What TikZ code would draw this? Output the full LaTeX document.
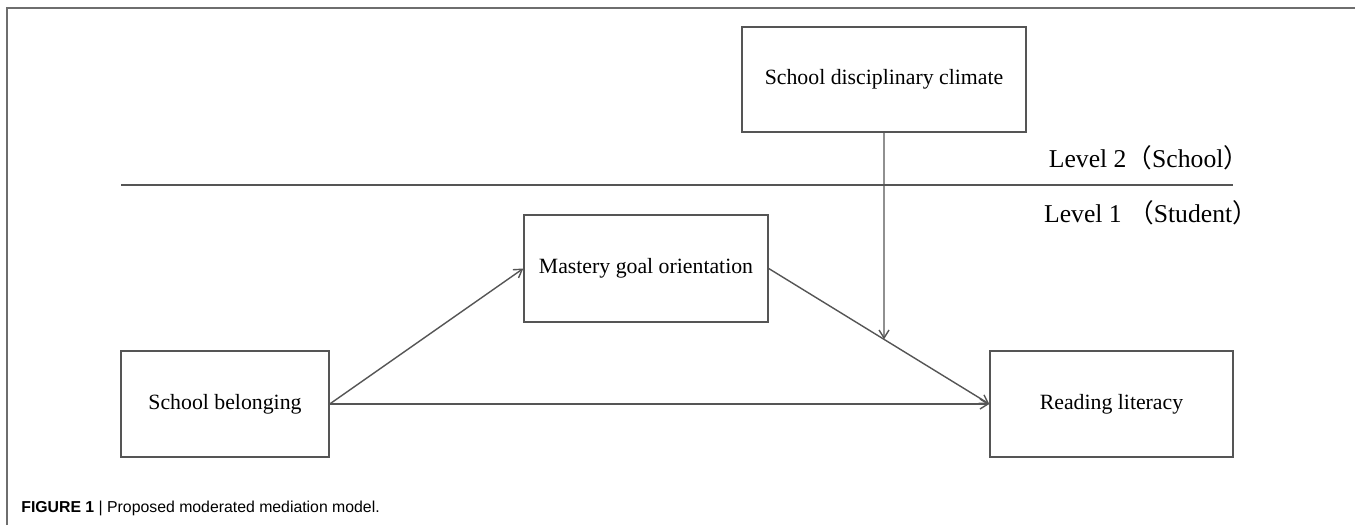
\documentclass[tikz,border=0pt]{standalone}
\usepackage{fontspec}
\setmainfont{Liberation Serif}
\setsansfont{Liberation Sans}
\newfontfamily\cjk{Noto Sans CJK SC}
\usepackage{tikz}
\usetikzlibrary{positioning,arrows.meta}

\definecolor{linegray}{RGB}{85,85,85}
\definecolor{framegray}{RGB}{110,110,110}

\tikzset{
	varbox/.style={draw=linegray,line width=0.8pt,fill=white,inner sep=0pt,
		font=\fontsize{12.4}{15}\selectfont},
	path/.style={-{Straight Barb[length=1.6mm,width=2mm]},draw=linegray,line width=0.8pt},
	levellabel/.style={font=\fontsize{14.6}{17}\selectfont,inner sep=0pt}
}

\begin{document}
\begin{tikzpicture}
			\useasboundingbox (0,0) rectangle (27.1,10.5);

			% outer frame of the figure
			\coordinate (frametl) at (0.14,10.34);
			\coordinate (frametr) at (27.1,10.34);
			\coordinate (framebl) at (0.14,0);
			\draw[framegray,line width=0.9pt] (framebl) -- (frametl) -- (frametr);

			% level separator
			\coordinate (levelleft) at (2.42,6.8);
			\coordinate (levelright) at (24.66,6.8);
			\draw[linegray,line width=0.8pt] (levelleft) -- (levelright);
			\node[levellabel] (level2) at (22.98,7.34) {Level 2{\cjk （}School{\cjk ）}};
			\node[levellabel] (level1) at (23.02,6.24) {Level 1 {\cjk （}Student{\cjk ）}};

			% variables
			\node[varbox,minimum width=5.68cm,minimum height=2.1cm] (climate) at (17.68,8.91) {School disciplinary climate};
			\node[varbox,minimum width=4.88cm,minimum height=2.14cm] (mastery) at (12.92,5.13) {Mastery goal orientation};
			\node[varbox,minimum width=4.16cm,minimum height=2.12cm] (belonging) at (4.5,2.42) {School belonging};
			\node[varbox,minimum width=4.86cm,minimum height=2.12cm] (reading) at (22.23,2.42) {Reading literacy};

			% paths
			\draw[path] (belonging.east) -- (mastery.west);
			\draw[path] (mastery.east) -- (reading.west);
			\draw[path] (belonging.east) -- (reading.west);

			% moderation
			\coordinate (moderate) at (intersection of climate.north--climate.south and mastery.east--reading.west);
			\draw[path] (climate.south) -- (moderate);

			% caption
			\node[anchor=base west,inner sep=0pt,font=\sffamily\fontsize{9}{11}\selectfont] (caption) at (0.42,0.26)
				{\textbf{FIGURE 1} | Proposed moderated mediation model.};
		\end{tikzpicture}
\end{document}
